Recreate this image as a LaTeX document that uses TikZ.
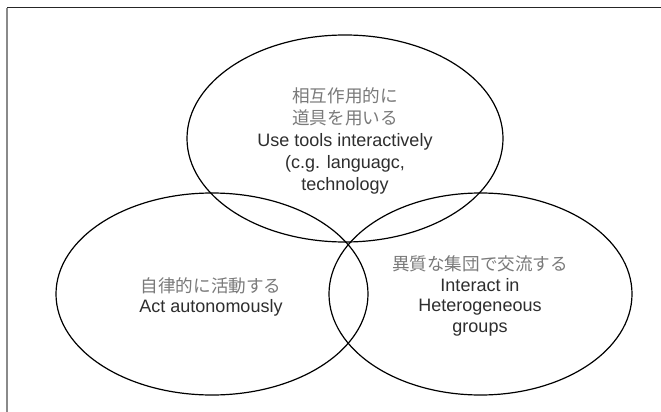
\documentclass[tikz,border=0pt]{standalone}
\usepackage{fontspec}
\setmainfont{Liberation Sans}
\newfontfamily\jp{Noto Sans CJK JP}
\usetikzlibrary{shapes.geometric}
\definecolor{jpgray}{HTML}{7A7A7A}
\definecolor{engray}{HTML}{2E2E2E}
\definecolor{framegray}{HTML}{8A8A8A}
\begin{document}
\begin{tikzpicture}[x=1pt,y=-1pt,
  venn/.style={ellipse,draw=black,line width=1.2pt,inner sep=0pt,outer sep=0pt},
  lbl/.style={align=center,inner sep=0pt,text=engray,font=\fontsize{18}{21.5}\selectfont},
  jpt/.style={text=jpgray}]
\useasboundingbox (0,0) rectangle (661,412);
\fill[white] (0,0) rectangle (661,412);
% frame
\coordinate (fl) at (7,8);
\coordinate (fr) at (661,8);
\coordinate (fb) at (7,412);
\draw[line width=1pt,color=black!85] (fl) -- (fr);
\draw[line width=1.4pt,color=framegray] (fl) -- (fb);
% ellipses
\node[venn,minimum width=316,minimum height=207] (top) at (345,138.5) {};
\node[venn,minimum width=312,minimum height=202] (left) at (212,294) {};
\node[venn,minimum width=303,minimum height=202] (right) at (480.5,294) {};
% labels
\node[lbl,font=\fontsize{18}{22}\selectfont] (toplbl) at (345,141)
  {{\jp\fontsize{17.6}{22}\selectfont\color{jpgray}相互作用的に}\\
   {\jp\fontsize{17.6}{22}\selectfont\color{jpgray}道具を用いる}\\
   Use tools interactively\\
   (c.g. languagc,\\
   technology};
\node[lbl,font=\fontsize{18}{20.5}\selectfont] (leftlbl) at (211,297)
  {{\jp\fontsize{17.6}{20.5}\selectfont\color{jpgray}自律的に活動する}\\
   Act autonomously};
\node[lbl,font=\fontsize{18}{20.7}\selectfont] (rightlbl) at (480,296)
  {{\jp\fontsize{17.6}{20.7}\selectfont\color{jpgray}異質な集団で交流する}\\
   Interact in\\
   Heterogeneous\\
   groups};
\end{tikzpicture}
\end{document}
